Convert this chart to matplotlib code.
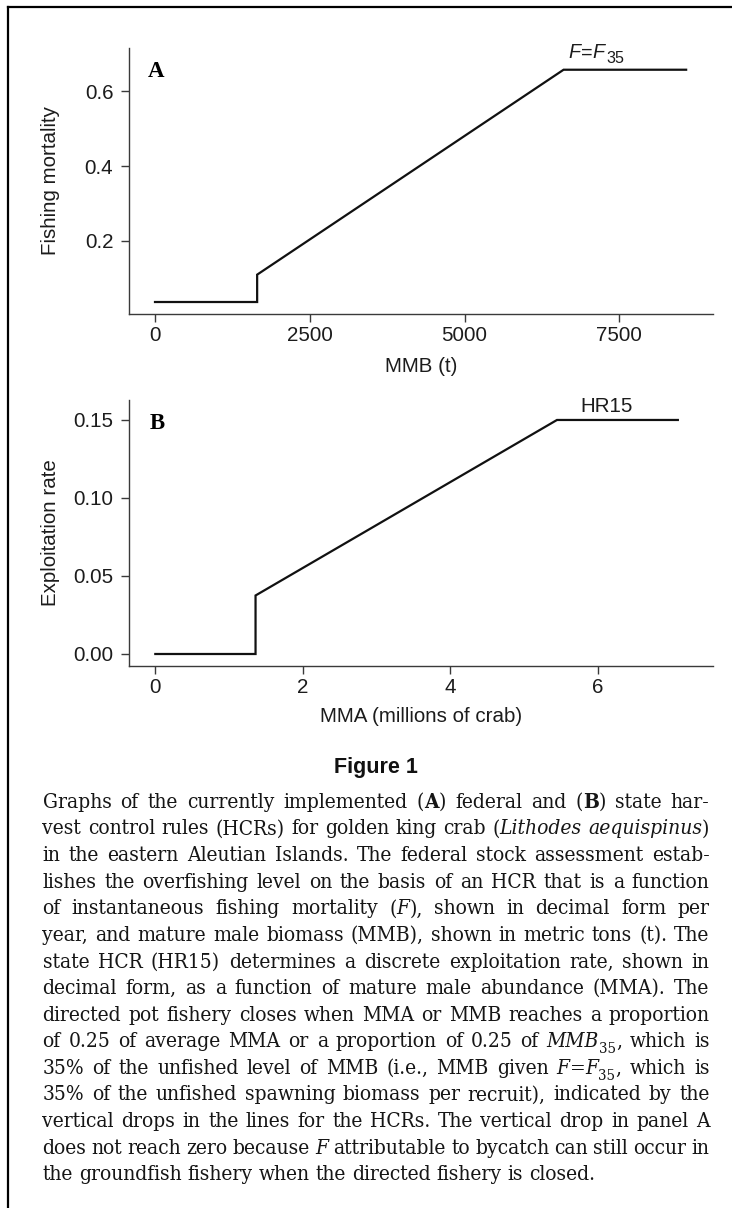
import os
import re
import matplotlib
matplotlib.use('Agg')
import matplotlib.pyplot as plt
from matplotlib import font_manager
from matplotlib.font_manager import FontProperties
from matplotlib.transforms import blended_transform_factory
from matplotlib.lines import Line2D

# ---------------- data ----------------
mmb_t = [0, 1650, 1650, 6600, 8580]
fishing_mortality = [0.037, 0.037, 0.11, 0.657, 0.657]
mma_millions = [0, 1.36, 1.36, 5.45, 7.09]
exploitation_rate = [0.0, 0.0, 0.0375, 0.15, 0.15]

a_xticks = [0, 2500, 5000, 7500]
a_yticks = [0.2, 0.4, 0.6]
a_yticklabels = ['0.2', '0.4', '0.6']
b_xticks = [0, 2, 4, 6]
b_yticks = [0.00, 0.05, 0.10, 0.15]
b_yticklabels = ['0.00', '0.05', '0.10', '0.15']

a_xlabel = 'MMB (t)'
a_ylabel = 'Fishing mortality'
b_xlabel = 'MMA (millions of crab)'
b_ylabel = 'Exploitation rate'
b_annot = 'HR15'

caption_title = 'Figure 1'
caption_lines = [
    "Graphs of the currently implemented ({b:A}) federal and ({b:B}) state har-",
    "vest control rules (HCRs) for golden king crab ({i:Lithodes} {i:aequispinus})",
    "in the eastern Aleutian Islands. The federal stock assessment estab-",
    "lishes the overfishing level on the basis of an HCR that is a function",
    "of instantaneous fishing mortality ({i:F}), shown in decimal form per",
    "year, and mature male biomass (MMB), shown in metric tons (t). The",
    "state HCR (HR15) determines a discrete exploitation rate, shown in",
    "decimal form, as a function of mature male abundance (MMA). The",
    "directed pot fishery closes when MMA or MMB reaches a proportion",
    "of 0.25 of average MMA or a proportion of 0.25 of {i:MMB}{s:35}, which is",
    "35% of the unfished level of MMB (i.e., MMB given {i:F}={i:F}{s:35}, which is",
    "35% of the unfished spawning biomass per recruit), indicated by the",
    "vertical drops in the lines for the HCRs. The vertical drop in panel A",
    "does not reach zero because {i:F} attributable to bycatch can still occur in",
    "the groundfish fishery when the directed fishery is closed.",
]

# ---------------- figure ----------------
W, H = 732, 1208
SANS = ['Liberation Sans', 'DejaVu Sans']
plt.rcParams['font.family'] = SANS
fig = plt.figure(figsize=(W / 100, H / 100), dpi=100)
fig.patch.set_facecolor('white')
renderer = fig.canvas.get_renderer()

def fx(x):
    return x / W

def fy(y):
    return 1 - y / H

def px_axes(left, top, right, bottom):
    return fig.add_axes([left / W, 1 - bottom / H, (right - left) / W, (bottom - top) / H])

SPINE = '#3a3a3a'
LINE = '#111111'
TXT = '#1c1c1c'
TICKSIZE = 14.8

axA = px_axes(129, 48, 712.7, 314)
axB = px_axes(129, 400, 712.7, 665.7)

axA.plot(mmb_t, fishing_mortality, color=LINE, lw=1.6, solid_joinstyle='miter')
axB.plot(mma_millions, exploitation_rate, color=LINE, lw=1.6, solid_joinstyle='miter')

axA.set_xlim(-420, 9009)
axA.set_ylim(0.005, 0.715)
axA.set_xticks(a_xticks)
axA.set_xticklabels([str(v) for v in a_xticks])
axA.set_yticks(a_yticks)
axA.set_yticklabels(a_yticklabels)

axB.set_xlim(-0.357, 7.563)
axB.set_ylim(-0.0075, 0.1628)
axB.set_xticks(b_xticks)
axB.set_xticklabels([str(v) for v in b_xticks])
axB.set_yticks(b_yticks)
axB.set_yticklabels(b_yticklabels)

for ax, xl, yl, xly in ((axA, a_xlabel, a_ylabel, 366.7), (axB, b_xlabel, b_ylabel, 716.7)):
    ax.set_facecolor('none')
    for s in ('top', 'right'):
        ax.spines[s].set_visible(False)
    for s in ('left', 'bottom'):
        ax.spines[s].set_color(SPINE)
        ax.spines[s].set_linewidth(1.0)
    ax.tick_params(axis='both', direction='out', length=5.5, width=1.0, color=SPINE,
                   labelsize=TICKSIZE, labelcolor=TXT)
    ax.tick_params(axis='y', pad=5.8)
    ax.tick_params(axis='x', pad=3.5)
    ax.set_xlabel(xl, fontsize=TICKSIZE, color=TXT)
    ax.set_ylabel(yl, fontsize=TICKSIZE, color=TXT)
    ax.xaxis.label.set_va('center')
    ax.yaxis.label.set_va('center')
    ax.xaxis.set_label_coords(0.5, fy(xly), transform=blended_transform_factory(ax.transAxes, fig.transFigure))
    ax.yaxis.set_label_coords(fx(51), 0.5, transform=blended_transform_factory(fig.transFigure, ax.transAxes))

# panel letters
fig.text(fx(148), fy(77), 'A', fontfamily=['Liberation Serif'], fontweight='bold',
         fontsize=16.5, color='black', va='baseline', ha='left')
fig.text(fx(150), fy(429), 'B', fontfamily=['Liberation Serif'], fontweight='bold',
         fontsize=16.5, color='black', va='baseline', ha='left')

# ---------------- rich text helper ----------------
def text_width(s, fp):
    t = fig.text(0, 0, s, fontproperties=fp)
    w = t.get_window_extent(renderer).width
    t.remove()
    return w

def parse_word(word):
    segs = []
    for p in re.split(r'(\{[bis]:[^}]*\})', word):
        if not p:
            continue
        m = re.fullmatch(r'\{([bis]):([^}]*)\}', p)
        if m:
            segs.append((m.group(2), m.group(1)))
        else:
            segs.append((p, 'n'))
    return segs

def draw_segments(x, y, segs, props, size, color, measure_only=False,
                  sub_scale=0.72, sub_drop=0.27, sub_gap=0.0):
    total = 0.0
    for s, st in segs:
        fp = props[st].copy()
        sz = size * (sub_scale if st == 's' else 1.0)
        fp.set_size(sz)
        if st == 's':
            total += sub_gap
        w = text_width(s, fp)
        if not measure_only:
            dy = sub_drop * size * 100 / 72 if st == 's' else 0.0
            fig.text(fx(x + total), fy(y + dy), s, fontproperties=fp, color=color,
                     va='baseline', ha='left')
        total += w
    return total

# chart annotation F=F35 (sans, italic F)
sans_props = {
    'n': FontProperties(family=SANS),
    'b': FontProperties(family=SANS, weight='bold'),
    'i': FontProperties(family=SANS, style='italic'),
    's': FontProperties(family=SANS),
}
draw_segments(568.5, 58.5, parse_word('{i:F}={i:F}{s:35}'), sans_props, 14.2, TXT,
              sub_scale=0.82, sub_drop=0.22, sub_gap=2.0)
fig.text(fx(580.7), fy(411.7), b_annot, fontsize=TICKSIZE, color=TXT, va='baseline', ha='left')

# ---------------- caption ----------------
def find_font(name):
    for f in font_manager.fontManager.ttflist:
        if os.path.basename(f.fname) == name:
            return f.fname
    return None

reg = find_font('DejaVuSerifCondensed.ttf')
bold = find_font('DejaVuSerifCondensed-Bold.ttf')
ital = find_font('DejaVuSerifCondensed-Italic.ttf')
if reg and bold and ital:
    serif_props = {'n': FontProperties(fname=reg), 'b': FontProperties(fname=bold),
                   'i': FontProperties(fname=ital), 's': FontProperties(fname=reg)}
else:
    serif_props = {'n': FontProperties(family=['Liberation Serif']),
                   'b': FontProperties(family=['Liberation Serif'], weight='bold'),
                   'i': FontProperties(family=['Liberation Serif'], style='italic'),
                   's': FontProperties(family=['Liberation Serif'])}
cap_size = 13.0

TEXT_L, TEXT_R = 42.5, 709.5
LAST_LINE_W = 556.0          # measured natural width of the final (unjustified) line
LINE0, LSTEP = 807.9, 26.6

def line_words(line):
    return [parse_word(w) for w in line.split(' ')]

def space_w(size):
    fp = serif_props['n'].copy()
    fp.set_size(size)
    return text_width('a a', fp) - text_width('aa', fp)

def natural_width(line, size, space_factor=1.0):
    ws = [draw_segments(0, 0, w, serif_props, size, 'k', measure_only=True) for w in line_words(line)]
    return sum(ws) + space_w(size) * space_factor * (len(ws) - 1)

# calibrate size on the last line, then make sure justified lines still fit
cap_size *= LAST_LINE_W / natural_width(caption_lines[-1], cap_size)
for _ in range(3):
    maxw = max(natural_width(l, cap_size, 0.45) for l in caption_lines[:-1])
    if maxw > TEXT_R - TEXT_L:
        cap_size *= (TEXT_R - TEXT_L) / maxw
    else:
        break

sp = space_w(cap_size)
for i, line in enumerate(caption_lines):
    y = LINE0 + i * LSTEP
    words = line_words(line)
    widths = [draw_segments(0, 0, w, serif_props, cap_size, 'k', measure_only=True) for w in words]
    if i < len(caption_lines) - 1 and len(words) > 1:
        gap = (TEXT_R - TEXT_L - sum(widths)) / (len(words) - 1)
    else:
        gap = sp
    x = TEXT_L
    for w, wd in zip(words, widths):
        draw_segments(x, y, w, serif_props, cap_size, '#161616')
        x += wd + gap

fig.text(fx(375.5), fy(773), caption_title, fontfamily=SANS, fontweight='bold',
         fontsize=15.5, color='#111111', ha='center', va='baseline')

# ---------------- frame ----------------
fig.add_artist(Line2D([fx(8), fx(8)], [fy(7), 0], transform=fig.transFigure, color='black', lw=1.6))
fig.add_artist(Line2D([fx(8), 1], [fy(7), fy(7)], transform=fig.transFigure, color='black', lw=1.6))

fig.savefig('out.png', dpi=100, facecolor='white')
